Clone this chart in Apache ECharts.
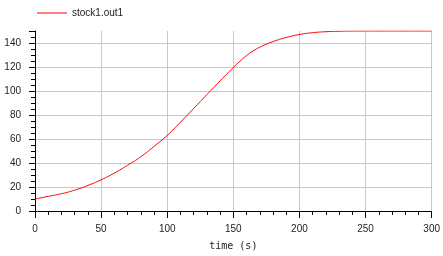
<!DOCTYPE html>
<html>
<head>
<meta charset="utf-8">
<script src="https://cdn.jsdelivr.net/npm/echarts@6/dist/echarts.min.js"></script>
<style>html,body{margin:0;padding:0;background:#fff;}#c{width:443px;height:256px;}</style>
</head>
<body>
<div id="c"></div>
<script>
var seriesName = 'stock1.out1';
var time = [0,10,20,30,40,50,60,70,80,90,100,110,120,130,140,150,155,160,165,170,175,180,190,200,210,220,230,240,250,260,270,280,290,300];
var stock = [10,12.2,14.4,17.4,21.3,26.0,31.6,38.1,45.2,53.8,63.0,74.0,85.4,97.0,108.4,119.6,124.8,129.6,133.4,136.5,139.0,141.2,144.6,147.1,148.6,149.4,149.8,149.95,150,150,150,150,150,150];
var xTitle = 'time (s)';

var chart = echarts.init(document.getElementById('c'), null, {renderer:'canvas'});
var lab = {color:'#222', fontFamily:'Liberation Sans', fontSize:10};
chart.setOption({
  animation:false,
  backgroundColor:'#fff',
  legend:{
    data:[seriesName], left:32, top:3, icon:'rect', itemWidth:30, itemHeight:1,
    textStyle:{color:'#222', fontFamily:'Liberation Sans', fontSize:10}
  },
  grid:{left:35, right:11, top:31, bottom:45, containLabel:false},
  xAxis:{
    type:'value', min:0, max:300, interval:50,
    name:xTitle, nameLocation:'middle', nameGap:30,
    nameTextStyle:{color:'#222', fontFamily:'DejaVu Sans Mono', fontSize:10},
    axisLine:{show:true, lineStyle:{color:'#000', width:1}},
    axisTick:{show:true, length:7, lineStyle:{color:'#000'}},
    minorTick:{show:true, splitNumber:5, length:4, lineStyle:{color:'#000'}},
    axisLabel:Object.assign({margin:13}, lab),
    splitLine:{show:true, lineStyle:{color:'#c8c8c8', width:1}}
  },
  yAxis:{
    type:'value', min:0, max:150, interval:20,
    axisLine:{show:true, lineStyle:{color:'#000', width:1}},
    axisTick:{show:true, length:6, lineStyle:{color:'#000'}},
    minorTick:{show:true, splitNumber:4, length:4, lineStyle:{color:'#000'}},
    axisLabel:Object.assign({margin:14, showMaxLabel:false}, lab),
    splitLine:{show:true, showMaxLine:false, lineStyle:{color:'#c8c8c8', width:1}}
  },
  series:[{
    name:seriesName, type:'line', smooth:true, showSymbol:false,
    data: time.map(function(t,i){return [t, stock[i]];}),
    lineStyle:{color:'#ff0000', width:1}, itemStyle:{color:'#ff0000'}
  }]
});
</script>
</body>
</html>
